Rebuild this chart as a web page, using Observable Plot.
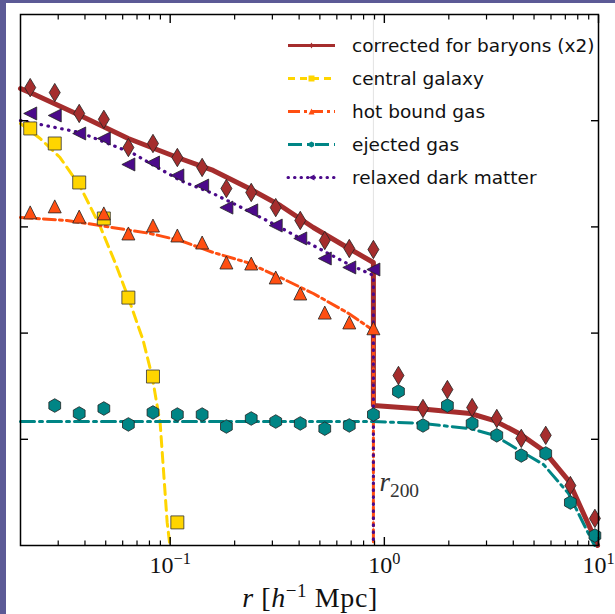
<!DOCTYPE html>
<html><head><meta charset="utf-8">
<script src="https://cdn.jsdelivr.net/npm/d3@7"></script>
<script src="https://cdn.jsdelivr.net/npm/@observablehq/plot@0.6"></script>
<style>
html,body{margin:0;padding:0;background:#5c5a96;width:615px;height:614px;overflow:hidden}
#panel{position:absolute;left:6px;top:3px;width:609px;height:611px;background:#fff}
</style></head><body><div id="panel"></div>
<script>
// ---- data ----
const r200 = 0.889;
const xBins = [0.0222, 0.0289, 0.0376, 0.049, 0.0638, 0.0831, 0.108, 0.141, 0.183, 0.239, 0.311, 0.405, 0.527, 0.686, 0.889, 1.164, 1.515, 1.97, 2.57, 3.35, 4.36, 5.67, 7.39, 9.62];
const corrY = [20500, 18400, 11700, 10300, 5590, 6100, 4500, 3630, 2300, 2110, 1520, 1150, 745, 626, 613, 39.9, 19.5, 29.4, 19.9, 15.7, 10.2, 10.9, 3.67, 1.80];
const centralY = [8450, 6100, 2620, 1200, 216, 39.0, 1.65];
const hotY = [1370, 1560, 1250, 1340, 867, 1030, 830, 713, 462, 452, 334, 236, 156, 126, 111];
const ejectY = [20.8, 17.5, 19.5, 13.8, 17.9, 17.1, 17.1, 13.2, 15.7, 14.7, 14.1, 12.6, 13.5, 17.1, 28.2, 13.5, 20.8, 14.1, 10.9, 7.04, 7.35, 2.54, 1.24];
const dmY = [11700, 11200, 7580, 6800, 3870, 4040, 3050, 2450, 1520, 1430, 1030, 778, 504, 415, 397];

const corrLineX = [0.02, 0.0222, 0.038, 0.0637, 0.1113, 0.1588, 0.229, 0.3266, 0.466, 0.671, 0.889, 0.889, 1.506, 2.523, 3.266, 4.275, 5.534, 7.246, 9.475, 9.9];
const corrLineY = [20100, 18400, 11200, 6800, 4410, 3400, 2350, 1590, 987, 640, 462, 20.8, 19.3, 17.5, 15.0, 11.3, 7.85, 4.09, 1.24, 1.0];
const centralLineX = [0.02, 0.0247, 0.0306, 0.038, 0.0471, 0.0553, 0.0637, 0.0748, 0.0824, 0.0898, 0.0968, 0.0997];
const centralLineY = [9410, 6800, 4500, 2400, 1010, 462, 216, 85.2, 39.0, 14.1, 1.65, 1.0];
const hotLineX = [0.02, 0.033, 0.0471, 0.0807, 0.1113, 0.1588, 0.229, 0.3266, 0.466, 0.671, 0.889, 0.889];
const hotLineY = [1226, 1150, 1030, 867, 745, 574, 462, 334, 236, 156, 106, 1.0];
const ejectLineX = [0.02, 0.889, 1.506, 2.523, 3.266, 4.275, 5.534, 7.246, 9.475, 9.6];
const ejectLineY = [14.7, 14.7, 14.1, 12.6, 10.9, 7.85, 5.79, 3.09, 1.04, 1.0];
const dmLineX = [0.02, 0.038, 0.0672, 0.1113, 0.1588, 0.229, 0.3266, 0.466, 0.671, 0.889, 0.889];
const dmLineY = [10040, 7740, 4910, 2735, 2060, 1430, 987, 668, 452, 349, 1.0];

const legendLabels = ["corrected for baryons (x2)", "central galaxy", "hot bound gas", "ejected gas", "relaxed dark matter"];
const xMajor = [0.1, 1, 10];
const xMajorLabels = ["10|−1", "10|0", "10|1"];
const xMinor = [0.03,0.04,0.05,0.06,0.07,0.08,0.09,0.2,0.3,0.4,0.5,0.6,0.7,0.8,0.9,2,3,4,5,6,7,8,9];
const yMajor = [10, 100, 1000, 10000];
const r200Label = "r|200";

// ---- styles ----
const C = {corr:"#a52d2d", central:"#ffd500", hot:"#ff4f12", eject:"#008585", dm:"#4b0a8a"};
const rad = s => Math.sqrt(s / Math.PI);
const thinDiamond = {draw(c, s){const r=rad(s), w=r*0.6; c.moveTo(0,-r); c.lineTo(w,0); c.lineTo(0,r); c.lineTo(-w,0); c.closePath();}};
const triLeft = {draw(c, s){const r=rad(s); c.moveTo(-r,0); c.lineTo(r,-r); c.lineTo(r,r); c.closePath();}};
const triUp = {draw(c, s){const r=rad(s); c.moveTo(0,-r); c.lineTo(r,r); c.lineTo(-r,r); c.closePath();}};
const sq = {draw(c, s){const r=rad(s); c.moveTo(-r,-r); c.lineTo(r,-r); c.lineTo(r,r); c.lineTo(-r,r); c.closePath();}};
const hexa = {draw(c, s){const r=rad(s); for(let k=0;k<6;k++){const a=(-90+60*k)*Math.PI/180; const px=r*Math.cos(a), py=r*Math.sin(a); if(k===0)c.moveTo(px,py); else c.lineTo(px,py);} c.closePath();}};

const pts = (xs, ys) => ys.map((y, i) => ({x: xs[i], y}));
const corrPts = pts(xBins, corrY);
const centralPts = pts(xBins.slice(0, 7), centralY);
const hotPts = pts(xBins.slice(0, 15), hotY);
const ejectPts = pts(xBins.slice(1), ejectY);
const dmPts = pts(xBins.slice(0, 15), dmY);

const blank = () => "";
const chart = Plot.plot({
  width: 609, height: 611,
  marginLeft: 14, marginRight: 17, marginTop: 11, marginBottom: 69,
  x: {type: "log", domain: [0.02, 10]},
  y: {type: "log", domain: [1, 1e5]},
  style: {background: "transparent", overflow: "visible"},
  marks: [
    Plot.ruleX([r200], {stroke: "#e2e2e2", strokeWidth: 1}),
    Plot.line(pts(corrLineX, corrLineY), {x: "x", y: "y", stroke: C.corr, strokeWidth: 5}),
    Plot.line(pts(centralLineX, centralLineY), {x: "x", y: "y", stroke: C.central, strokeWidth: 3, strokeDasharray: "10,6"}),
    Plot.line(pts(hotLineX, hotLineY), {x: "x", y: "y", stroke: C.hot, strokeWidth: 3, strokeDasharray: "12,4,3,4"}),
    Plot.line(pts(ejectLineX, ejectLineY), {x: "x", y: "y", stroke: C.eject, strokeWidth: 3, strokeDasharray: "14,5,3,5"}),
    Plot.line(pts(dmLineX, dmLineY), {x: "x", y: "y", stroke: C.dm, strokeWidth: 3.2, strokeDasharray: "0.5,6.5", strokeLinecap: "round"}),
    Plot.dot(corrPts, {x: "x", y: "y", symbol: thinDiamond, r: 9.2, fill: C.corr, stroke: "#222", strokeWidth: 0.8}),
    Plot.dot(centralPts, {x: "x", y: "y", symbol: sq, r: 6.5, fill: C.central, stroke: "#333", strokeWidth: 0.8}),
    Plot.dot(hotPts, {x: "x", y: "y", symbol: triUp, r: 6.5, fill: C.hot, stroke: "#222", strokeWidth: 0.8}),
    Plot.dot(ejectPts, {x: "x", y: "y", symbol: hexa, r: 6.8, fill: C.eject, stroke: "#222", strokeWidth: 0.8}),
    Plot.dot(dmPts, {x: "x", y: "y", symbol: triLeft, r: 6.5, fill: C.dm, stroke: "#222", strokeWidth: 0.8}),
    Plot.text([r200], {x: d => d, y: [3.9], text: () => r200Label, dx: 6, textAnchor: "start", fontFamily: "Liberation Serif", fontSize: 27, fill: "#333"}),
    // ticks (inward)
    Plot.axisX(xMajor, {anchor: "bottom", tickSize: -8, tickFormat: blank, label: null, strokeWidth: 1.4}),
    Plot.axisX(xMinor, {anchor: "bottom", tickSize: -4.5, tickFormat: blank, label: null, strokeWidth: 1.2}),
    Plot.axisX(xMajor, {anchor: "top", tickSize: -8, tickFormat: blank, label: null, strokeWidth: 1.4}),
    Plot.axisX(xMinor, {anchor: "top", tickSize: -4.5, tickFormat: blank, label: null, strokeWidth: 1.2}),
    Plot.axisY(yMajor, {anchor: "left", tickSize: -8, tickFormat: blank, label: null, strokeWidth: 1.4}),
    Plot.axisY(yMajor, {anchor: "right", tickSize: -8, tickFormat: blank, label: null, strokeWidth: 1.4}),
    Plot.axisX(xMajor, {anchor: "bottom", tickSize: 0, tickPadding: 10, tickFormat: d => xMajorLabels[xMajor.indexOf(d)], label: null, fontFamily: "Liberation Serif", fontSize: 24, fill: "#111"}),
    Plot.frame({stroke: "black", strokeWidth: 1.5})
  ]
});
document.getElementById("panel").appendChild(chart);

// superscript / subscript via tspans
d3.select(chart).selectAll("text").each(function() {
  const t = d3.select(this);
  const s = t.text();
  if (!s.includes("|")) return;
  const [a, b] = s.split("|");
  const sub = a === "r";
  t.text(null);
  t.append("tspan").attr("font-style", sub ? "italic" : null).text(a);
  t.append("tspan").attr("font-size", sub ? "0.72em" : "0.68em").attr("dy", sub ? "0.3em" : "-0.5em").text(b);
});

const svg = d3.select(chart);
// x-axis title
const xl = svg.append("text").attr("x", 304).attr("y", 604).attr("text-anchor", "middle")
  .attr("font-family", "Liberation Serif").attr("font-size", 28).attr("letter-spacing", 0.6).attr("fill", "#111");
xl.append("tspan").attr("font-style", "italic").text("r");
xl.append("tspan").text(" [");
xl.append("tspan").attr("font-style", "italic").text("h");
xl.append("tspan").attr("font-size", "0.68em").attr("dy", "-0.5em").text("−1");
xl.append("tspan").attr("dy", "0.34em").text(" Mpc]");

// legend
const legendStyle = [
  {c: C.corr, dash: null, sym: thinDiamond},
  {c: C.central, dash: "7,5", sym: sq},
  {c: C.hot, dash: "12,4,3,4", sym: triUp},
  {c: C.eject, dash: "14,5,3,5", sym: hexa},
  {c: C.dm, dash: "0.5,6", sym: triLeft}
];
const lg = svg.append("g");
legendLabels.forEach((lab, i) => {
  const y = 42.5 + 33 * i, s = legendStyle[i];
  lg.append("line").attr("x1", 282).attr("x2", 329).attr("y1", y).attr("y2", y)
    .attr("stroke", s.c).attr("stroke-width", 3).attr("stroke-dasharray", s.dash)
    .attr("stroke-linecap", i === 4 ? "round" : null);
  lg.append("path").attr("d", d3.symbol(s.sym, Math.PI * 9)()).attr("transform", `translate(305.5,${y})`).attr("fill", s.c);
  lg.append("text").attr("x", 346).attr("y", y).attr("dy", "0.35em").attr("text-anchor", "start")
    .attr("font-family", "DejaVu Sans").attr("font-size", 18.5).attr("fill", "#111").text(lab);
});
</script></body></html>
